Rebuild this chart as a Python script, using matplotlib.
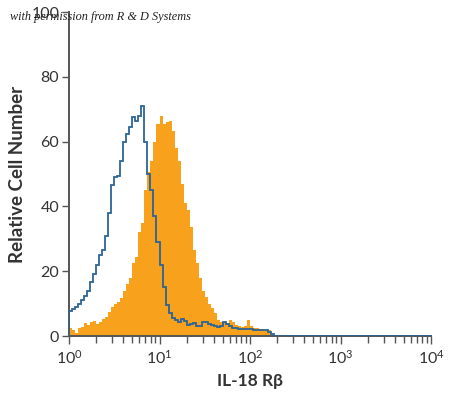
import numpy as np
import matplotlib
matplotlib.use("Agg")
import matplotlib.pyplot as plt
from matplotlib.ticker import FixedLocator, LogLocator, NullFormatter

# ---- data (bins of 1/30 decade starting at 10^0) ----
bins_per_decade = 30
n_decades = 4

isotype = [7.8, 8.2, 9, 10, 11, 12.5, 14, 16.7, 19, 22,
           25, 26.5, 31, 38, 46.5, 49, 49.5, 54, 60, 62.5,
           64.5, 67.5, 66.5, 68, 71, 60, 50, 45, 37, 29,
           22, 15, 9.5, 7, 5.6, 5, 4.4, 5.2, 4.5, 3.4,
           3.8, 4, 3.2, 3, 4.2, 4.4, 3.8, 3.5, 3, 2.9,
           3, 4.4, 3.6, 3, 2.6, 2.4, 2.3, 2.2, 2.1, 2.1,
           2.1, 2.0, 1.9, 1.8, 1.8, 1.8, 1.2, 0.5]

stained = [2.5, 1.8, 0.9, 2.5, 2.9, 4, 3.4, 4.4, 4.6, 3.6,
           4.4, 5.4, 6, 7.5, 9, 10, 10.5, 11.7, 14, 16,
           18, 22.4, 24.4, 32, 35, 45, 50.5, 54, 60, 65.5,
           68, 65.5, 66, 66.5, 63.4, 58, 54, 47, 41, 38.8,
           33.6, 26.5, 22.4, 18, 14, 12, 10, 8.5, 7, 5,
           4.4, 4.2, 4, 4.8, 4.2, 3.4, 3.2, 2.9, 3.2, 4.8,
           3, 2.6, 2.4, 2.1, 2.0, 1.9, 1.8]

y_ticks = [0, 20, 40, 60, 80, 100]
x_ticks = [1, 10, 100, 1000, 10000]
x_tick_labels = [r"$\mathregular{10^{0}}$", r"$\mathregular{10^{1}}$",
                 r"$\mathregular{10^{2}}$", r"$\mathregular{10^{3}}$",
                 r"$\mathregular{10^{4}}$"]
x_label = "IL-18 R\u03b2"
y_label = "Relative Cell Number"
watermark = "with permission from R & D Systems"

# ---- styling ----
narrow = ["Lato", "DejaVu Sans"]
plt.rcParams["font.family"] = narrow
plt.rcParams["mathtext.fontset"] = "custom"
plt.rcParams["mathtext.rm"] = "Lato"

orange = "#F8A11D"
blue = "#2B6497"
axis_col = "#555555"
text_col = "#333333"

fig = plt.figure(figsize=(4.5, 3.99), dpi=100)
ax = fig.add_axes([69 / 450, 63 / 399, 362 / 450, 324 / 399])

total_bins = bins_per_decade * n_decades
iso_full = np.array(isotype + [0] * (total_bins - len(isotype)), dtype=float)
edges_iso = 10 ** (np.arange(total_bins + 1) / bins_per_decade)
st = np.array(stained, dtype=float)
edges_st = 10 ** (np.arange(len(st) + 1) / bins_per_decade)

ax.stairs(st, edges_st, fill=True, color=orange, linewidth=0, zorder=2)
ax.stairs(iso_full, edges_iso, fill=False, color=blue, linewidth=1.3, zorder=3)

ax.set_xscale("log")
ax.set_xlim(1, 10000)
ax.set_ylim(0, 100)

for s in ["top", "right"]:
    ax.spines[s].set_visible(False)
for s in ["left", "bottom"]:
    ax.spines[s].set_color(axis_col)
    ax.spines[s].set_linewidth(1.4)

ax.yaxis.set_major_locator(FixedLocator(y_ticks))
ax.set_yticklabels([str(v) for v in y_ticks])
ax.xaxis.set_major_locator(FixedLocator(x_ticks))
ax.set_xticklabels(x_tick_labels)
ax.xaxis.set_minor_locator(LogLocator(base=10, subs=np.arange(2, 10)))
ax.xaxis.set_minor_formatter(NullFormatter())

ax.tick_params(axis="y", direction="out", length=5, width=1, color=axis_col,
               labelsize=11.5, labelcolor=text_col, pad=2)
ax.tick_params(axis="x", which="major", direction="out", length=6, width=1,
               color=axis_col, labelsize=11.5, labelcolor=text_col, pad=3)
ax.tick_params(axis="x", which="minor", direction="out", length=5, width=1,
               color=axis_col)

ax.set_xlabel(x_label, fontsize=12.5, fontweight="bold", color=text_col, labelpad=5)
ax.set_ylabel(y_label, fontsize=13.5, fontweight="bold", color=text_col, labelpad=4)

fig.text(10 / 450, 1 - 17 / 399, watermark, fontsize=8.8, style="italic",
         family=["Liberation Serif", "DejaVu Serif"], color="#222222",
         va="center", ha="left", zorder=10)

fig.savefig("out.png", dpi=100)
